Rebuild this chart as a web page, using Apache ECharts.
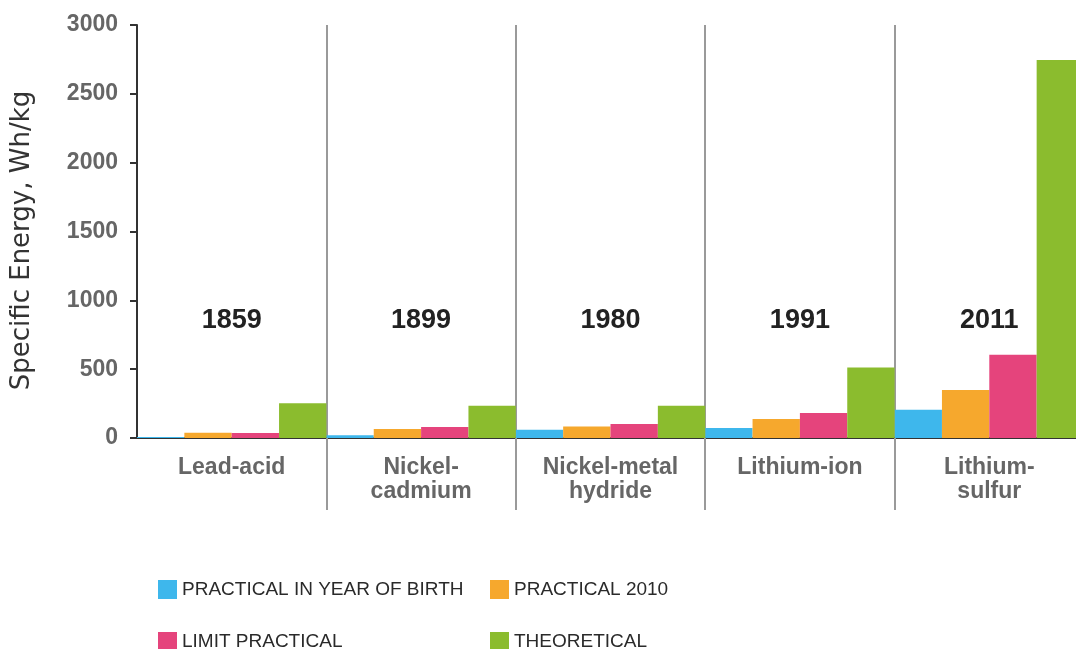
<!DOCTYPE html>
<html>
<head>
<meta charset="utf-8">
<script src="https://cdn.jsdelivr.net/npm/echarts@6/dist/echarts.min.js"></script>
<style>html,body{margin:0;padding:0;background:#fff}#c{width:1076px;height:649px}</style>
</head>
<body>
<div id="c"></div>
<script>
var categories = ['Lead-acid', 'Nickel-\ncadmium', 'Nickel-metal\nhydride', 'Lithium-ion', 'Lithium-\nsulfur'];
var years = ['1859', '1899', '1980', '1991', '2011'];
var seriesNames = ['PRACTICAL IN YEAR OF BIRTH', 'PRACTICAL 2010', 'LIMIT PRACTICAL', 'THEORETICAL'];
var practicalBirth = [8, 20, 60, 73, 205];
var practical2010 = [38, 65, 84, 138, 349];
var limitPractical = [36, 80, 101, 181, 604];
var theoretical = [252, 235, 234, 512, 2745];
var yTicks = [0, 500, 1000, 1500, 2000, 2500, 3000];
var colors = ['#3eb7ec', '#f6a82d', '#e5447c', '#8bbc2e'];

var values = [practicalBirth, practical2010, limitPractical, theoretical];
var chart = echarts.init(document.getElementById('c'), null, {renderer: 'canvas'});

var legendPos = [[153, 575], [485, 575], [153, 627], [485, 627]];
var legends = seriesNames.map(function (n, i) {
  return {
    data: [n],
    left: legendPos[i][0], top: legendPos[i][1],
    icon: 'rect', itemWidth: 19, itemHeight: 19, itemGap: 5,
    selectedMode: false,
    textStyle: {fontFamily: "'Liberation Sans', Arial, sans-serif", fontSize: 19, color: '#2a2a2a'}
  };
});

var series = values.map(function (v, i) {
  return {
    name: seriesNames[i], type: 'bar', data: v,
    barGap: '0%', barCategoryGap: '0%',
    itemStyle: {color: colors[i]},
    xAxisIndex: 0, yAxisIndex: 0
  };
});

var option = {
  animation: false,
  backgroundColor: '#fff',
  color: colors,
  legend: legends,
  grid: {left: 137, right: -8, top: 25, bottom: 211, containLabel: false, outerBoundsMode: 'none'},
  xAxis: [{
    type: 'category', data: categories, position: 'bottom',
    axisLine: {show: true, lineStyle: {color: '#333', width: 2}},
    axisTick: {show: true, length: 72, interval: function (i) { return i > 0; }, lineStyle: {color: '#9a9a9a', width: 2}},
    splitLine: {show: true, interval: function (i) { return i > 0; }, lineStyle: {color: '#9a9a9a', width: 2}},
    axisLabel: {interval: 0, margin: 18, color: '#666', fontWeight: 'bold', fontSize: 23, lineHeight: 24, fontFamily: "'Liberation Sans', Arial, sans-serif"}
  }, {
    type: 'category', data: years, position: 'top',
    axisLine: {show: false}, axisTick: {show: false}, splitLine: {show: false},
    axisLabel: {inside: true, interval: 0, margin: 282, color: '#222', fontWeight: 'bold', fontSize: 27, fontFamily: "'Liberation Sans', Arial, sans-serif"}
  }],
  yAxis: {
    type: 'value', min: 0, max: 3000, interval: 500,
    name: 'Specific Energy, Wh/kg', nameLocation: 'middle', nameGap: 102, nameRotate: 90,
    nameTextStyle: {fontFamily: "'DejaVu Sans', sans-serif", fontSize: 26, color: '#333', padding: [0, 18, 0, 0]},
    axisLine: {show: true, lineStyle: {color: '#333', width: 2}},
    axisTick: {show: true, length: 7, lineStyle: {color: '#333', width: 2}},
    splitLine: {show: false},
    axisLabel: {margin: 19, color: '#666', fontWeight: 'bold', fontSize: 23, fontFamily: "'Liberation Sans', Arial, sans-serif",
      formatter: function (v) { return yTicks.indexOf(v) >= 0 ? String(v) : ''; }}
  },
  series: series
};
chart.setOption(option);
</script>
</body>
</html>
